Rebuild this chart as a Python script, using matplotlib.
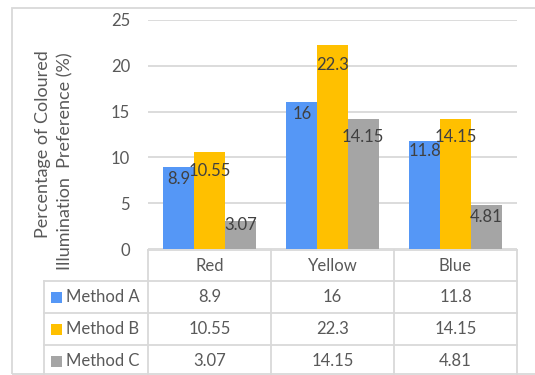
import matplotlib
matplotlib.use("Agg")
import matplotlib.pyplot as plt
import matplotlib.transforms as mtransforms
from matplotlib.patches import Rectangle
import numpy as np

plt.rcParams['font.family'] = ['Lato', 'DejaVu Sans']

categories = ['Red', 'Yellow', 'Blue']
series_names = ['Method A', 'Method B', 'Method C']
method_a = [8.9, 16, 11.8]
method_b = [10.55, 22.3, 14.15]
method_c = [3.07, 14.15, 4.81]
value_text = [['8.9', '16', '11.8'],
              ['10.55', '22.3', '14.15'],
              ['3.07', '14.15', '4.81']]
ylabel_lines = ['Percentage of Coloured', 'Illumination  Preference (%)']

colors = ['#5597F6', '#FFC000', '#A5A5A5']
grid_col = '#D9D9D9'
text_col = '#595959'
label_col = '#404040'
fs = 12
# how far below the bar top each data label sits (pixels)
label_drop = [[12, 12, 10], [19, 20, 18], [4, 18, 12]]

W, H = 535, 375
fig = plt.figure(figsize=(W / 100, H / 100), dpi=100)

def fx(px):
    return px / W

def fy(py):
    return 1 - py / H

ax = fig.add_axes([fx(148), fy(249), fx(517) - fx(148), fy(20) - fy(249)])
ax.set_xlim(-0.5, 2.5)
ax.set_ylim(0, 25)
ax.set_yticks(range(0, 26, 5))
ax.set_xticks([])
for s in ax.spines.values():
    s.set_visible(False)
ax.tick_params(axis='y', length=0, pad=13, labelsize=fs, labelcolor=text_col)
ax.yaxis.grid(True, color=grid_col, linewidth=1.3)
ax.set_axisbelow(True)

x = np.arange(len(categories))
width = 0.25
all_series = [method_a, method_b, method_c]
for i, vals in enumerate(all_series):
    xs = x + (i - 1) * width
    ax.bar(xs, vals, width, color=colors[i], zorder=2)
    for j, v in enumerate(vals):
        ax.annotate(value_text[i][j], (xs[j], v), xytext=(0, -label_drop[i][j] * 0.72),
                    textcoords='offset points', ha='center', va='center',
                    fontsize=fs, color=label_col, zorder=3)

# data table below the chart
trans = mtransforms.blended_transform_factory(ax.transData, fig.transFigure)
row_edges = [250, 281, 313, 345, 377]
col_edges = [-0.5, 0.5, 1.5, 2.5]
lw = 1.3
fig.add_artist(plt.Line2D([-0.5, 2.5], [fy(row_edges[0])] * 2, transform=trans, color=grid_col, lw=lw))
for r in row_edges[1:4]:
    fig.add_artist(plt.Line2D([fx(44), fx(517)], [fy(r)] * 2, transform=fig.transFigure, color=grid_col, lw=lw))
for c in col_edges:
    fig.add_artist(plt.Line2D([c, c], [fy(row_edges[0]), fy(380)], transform=trans, color=grid_col, lw=lw))
fig.add_artist(plt.Line2D([fx(44), fx(44)], [fy(row_edges[1]), fy(380)], transform=fig.transFigure, color=grid_col, lw=lw))

for j, cat in enumerate(categories):
    fig.text(j, fy(266), cat, transform=trans, ha='center', va='center', fontsize=fs, color=text_col)
for i, name in enumerate(series_names):
    yc = fy((row_edges[i + 1] + row_edges[i + 2]) / 2)
    fig.add_artist(Rectangle((fx(50.5), yc - 5.5 / H), 11 / W, 11 / H, transform=fig.transFigure,
                             color=colors[i], lw=0))
    fig.text(fx(66), yc, name, ha='left', va='center', fontsize=fs, color=text_col)
    for j in range(len(categories)):
        fig.text(j, yc, value_text[i][j], transform=trans, ha='center', va='center',
                 fontsize=fs, color=text_col)

# y axis title, two lines with their ends lined up at the top
fig.text(fx(43), fy(50), ylabel_lines[0], rotation=90, ha='center', va='top', fontsize=13, color=text_col)
fig.text(fx(65), fy(52), ylabel_lines[1], rotation=90, ha='center', va='top', fontsize=13, color=text_col)

# chart border
fig.add_artist(Rectangle((fx(12), fy(374)), fx(540) - fx(12), fy(8) - fy(374), transform=fig.transFigure,
                         fill=False, edgecolor=grid_col, lw=1.3))

fig.savefig('out.png', dpi=100)
